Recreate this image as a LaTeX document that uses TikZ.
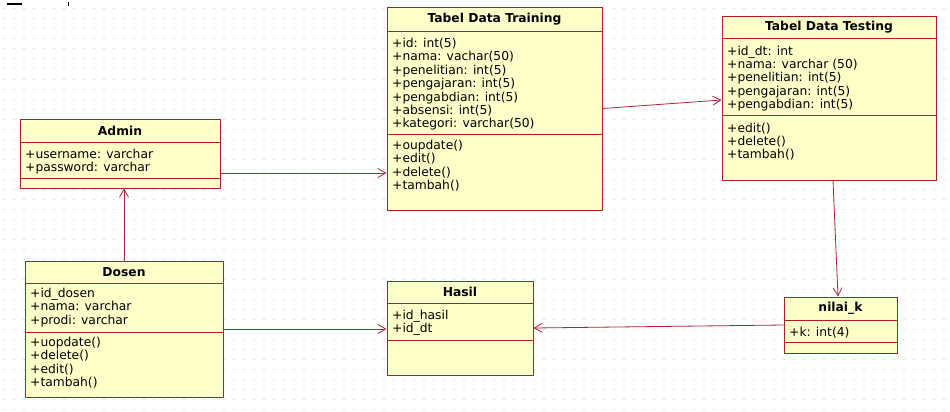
\documentclass[tikz,border=0pt]{standalone}
\usepackage{fontspec}
\setmainfont{DejaVu Sans}
\usetikzlibrary{arrows.meta}

\definecolor{classfill}{RGB}{255,255,202}
\definecolor{classedge}{RGB}{172,32,42}
\definecolor{assocred}{RGB}{172,36,58}
\definecolor{dotgray}{RGB}{220,220,220}

\tikzset{
  classbox/.style={draw=classedge, fill=classfill, line width=0.9pt, inner sep=0pt},
  classline/.style={draw=classedge, line width=0.9pt},
  ctitle/.style={font=\fontsize{12.3}{13}\selectfont\bfseries, inner sep=0pt},
  cattr/.style={font=\fontsize{12.3}{13.4}\selectfont, align=left, inner sep=0pt, anchor=north west},
  assoc/.style={draw=assocred, line width=0.8pt, -{Straight Barb[length=8pt,width=9pt]}},
  griddot/.style={dotgray, line width=1pt, dash pattern=on 2pt off 8pt},
}

\begin{document}
\begin{tikzpicture}[x=1pt, y=-1pt]
\useasboundingbox (0,0) rectangle (950,412);
\fill[white] (0,0) rectangle (950,412);
% dotted grid of the editor
\foreach \gy in {9,19,...,409}
  \draw[griddot] (3,\gy) -- (945,\gy);
\draw[black, line width=2pt] (7,4) -- (22,4);
\draw[black, line width=1pt] (68,2) -- (68,6);

% Admin
\node[classbox, minimum width=200pt, minimum height=69pt] (admin) at (120,153.5) {};
\draw[classline] (20,142) -- (220,142);
\draw[classline] (20,178) -- (220,178);
\node[ctitle] at (120,131) {Admin};
\node[cattr] at (25,149) {+username: varchar\\+password: varchar};

% Tabel Data Training
\node[classbox, minimum width=215pt, minimum height=203pt] (training) at (494.5,108.5) {};
\draw[classline] (387,31) -- (602,31);
\draw[classline] (387,134) -- (602,134);
\node[ctitle] at (494.5,19) {Tabel Data Training};
\node[cattr] at (392,38) {+id: int(5)\\+nama: vachar(50)\\+penelitian: int(5)\\+pengajaran: int(5)\\+pengabdian: int(5)\\+absensi: int(5)\\+kategori: varchar(50)};
\node[cattr] at (392,140) {+oupdate()\\+edit()\\+delete()\\+tambah()};

% Tabel Data Testing
\node[classbox, minimum width=214pt, minimum height=164pt] (testing) at (829,98) {};
\draw[classline] (722,38) -- (936,38);
\draw[classline] (722,115) -- (936,115);
\node[ctitle] at (829,27) {Tabel Data Testing};
\node[cattr] at (727,45.5) {+id\_dt: int\\+nama: varchar (50)\\+penelitian: int(5)\\+pengajaran: int(5)\\+pengabdian: int(5)};
\node[cattr] at (727,122.5) {+edit()\\+delete()\\+tambah()};

% Dosen
\node[classbox, minimum width=198pt, minimum height=136pt] (dosen) at (124,329) {};
\draw[classline] (25,283) -- (223,283);
\draw[classline] (25,332) -- (223,332);
\node[ctitle] at (124,272) {Dosen};
\node[cattr] at (30,288) {+id\_dosen\\+nama: varchar\\+prodi: varchar};
\node[cattr] at (30,337) {+uopdate()\\+delete()\\+edit()\\+tambah()};

% Hasil
\node[classbox, minimum width=146pt, minimum height=94pt] (hasil) at (460,328) {};
\draw[classline] (387,303) -- (533,303);
\draw[classline] (387,340) -- (533,340);
\node[ctitle] at (460,292) {Hasil};
\node[cattr] at (392,310) {+id\_hasil\\+id\_dt};

% nilai_k
\node[classbox, minimum width=113pt, minimum height=56pt] (nilaik) at (840.5,325) {};
\draw[classline] (784,320) -- (897,320);
\draw[classline] (784,342) -- (897,342);
\node[ctitle] at (840.5,308.5) {nilai\_k};
\node[cattr] at (789,327) {+k: int(4)};

% associations
\coordinate (adm) at ([yshift=-19.5pt]admin.east);
\draw[assoc] (adm) -- (adm -| training.west);
\draw[assoc] (training.east) -- ([yshift=-2pt]testing.west);
\draw[assoc] ([xshift=4pt]testing.south) -- ([xshift=-2.5pt]nilaik.north);
\draw[assoc] (dosen.north) -- (dosen.north |- admin.south);
\draw[assoc] (dosen.east) -- (dosen.east -| hasil.west);
\draw[assoc] (nilaik.west) -- (hasil.east);
\end{tikzpicture}
\end{document}
